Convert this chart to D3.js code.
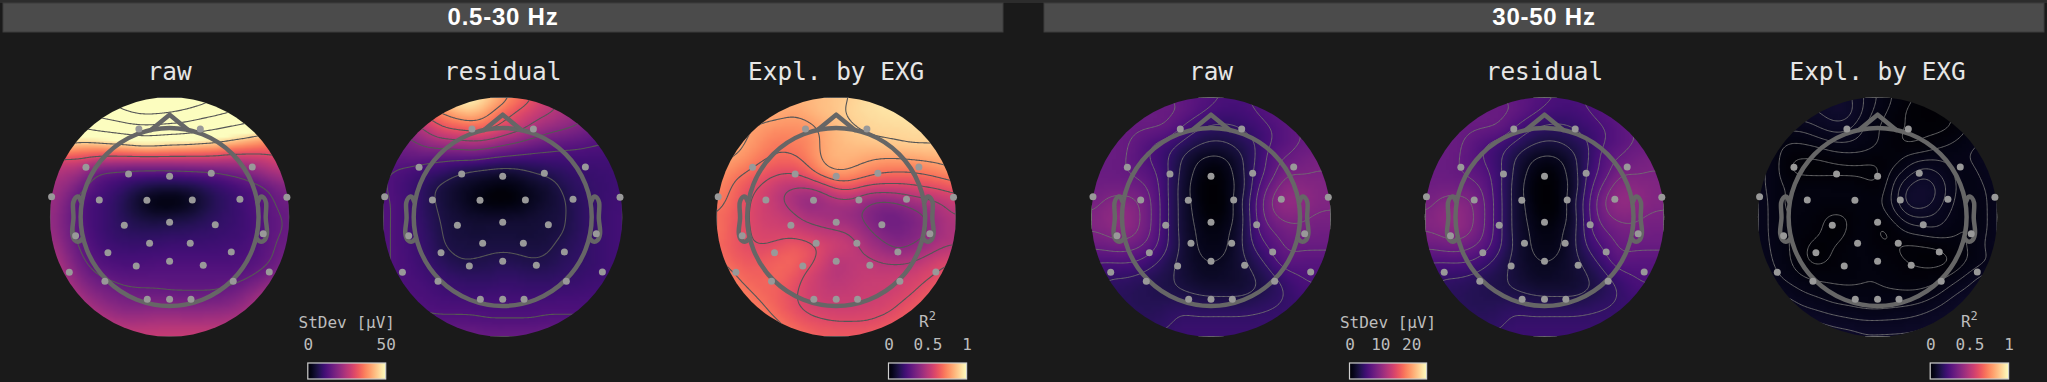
<!DOCTYPE html>
<html><head><meta charset="utf-8">
<script src="https://cdn.jsdelivr.net/npm/d3@7"></script>
<style>html,body{margin:0;padding:0;background:#1a1a1a;overflow:hidden}svg{display:block}</style>
</head><body><div id="chart"></div>
<script>
// ---------- data ----------
const bandTitles = ["0.5-30 Hz","30-50 Hz"];
const mapTitles = ["raw","residual","Expl. by EXG"];
const electrodeX = [-.345,.345,-.94,-.461,0,.468,.929,-1.326,-.79,-.255,.255,.79,1.318,-1.056,-.509,0,.513,1.052,-.225,.232,-.693,.693,-.375,0,.378,-1.127,1.12,-.727,.715,-.251,0,.24];
const electrodeY = [.989,.989,.558,.483,.457,.491,.562,.228,.191,.187,.191,.199,.221,-.21,-.094,-.06,-.086,-.187,-.296,-.296,-.401,-.393,-.551,-.498,-.543,-.622,-.618,-.723,-.723,-.925,-.925,-.925];
const noseX = [-.2094,0,.2094], noseY = [.9778,1.15,.9778];
const earX = [.994,1.02,1.036,1.06,1.084,1.08,1.094,1.064,1.02,.978];
const earY = [.17,.225,.23,.215,.16,-.011,-.186,-.263,-.277,-.24];

// field samples in percent of the colour range, 17 x 17, top row first
const raw1 = [
[170,170,175,180,190,205,225,225,215,205,197,185,175,165,155,150,145],
[155,155,155,160,165,174,184,184,180,174,165,158,150,142,135,130,125],
[110,115,120,128,133,140,144,143,140,138,131,125,118,113,105,100,95],
[100,98,90,91,94,96,102,102,98,97,94,92,87,82,78,72,65],
[62,60,62,58,57,57,57,57,57,57,57,57,53,54,54,59,60],
[50,47,44,31,28,27,26,26,26,27,28,29,33,36,42,47,50],
[45,42,33,26,22,18,14,12,11,12,14,18,20,24,27,33,38],
[45,36,26,22,19,14,7,2,1,3,9,15,18,22,26,30,33],
[43,35,26,22,19,15,12,10,11,12,14,17,19,21,25,29,31],
[44,35,27,22,19,17,16,16,17,17,18,19,20,21,25,29,31],
[47,38,29,24,21,20,20,20,21,21,21,21,22,23,26,30,33],
[50,42,32,27,24,23,23,24,24,24,24,24,24,25,27,31,36],
[55,46,37,31,29,27,27,27,27,27,27,27,27,28,32,37,42],
[60,51,43,37,34,32,31,31,30,30,30,30,32,36,42,48,54],
[62,57,50,44,40,37,37,38,38,37,37,38,39,43,49,54,60],
[65,62,57,52,48,46,46,47,47,47,47,47,48,50,55,60,64],
[68,66,63,60,57,55,55,55,55,55,55,55,56,58,60,63,66]];
const residual1 = [
[70,75,80,90,95,100,100,92,82,73,64,55,48,44,40,38,36],
[55,58,62,68,77,84,88,78,68,61,55,51,48,42,38,35,33],
[38,40,45,54,63,66,68,67,60,55,48,43,40,37,33,30,28],
[32,34,37,43,46,47,49,47,42,38,34,31,29,28,26,25,24],
[28,29,30,29,28,28,29,26,24,23,22,22,22,22,22,22,22],
[26,24,22,20,18,14,11,10,9,10,13,15,17,19,20,20,21],
[26,23,20,15,11,8,6,4,2,4,7,9,14,17,19,20,21],
[26,24,20,15,11,8,4,1,1,2,6,9,12,16,19,20,22],
[26,24,20,16,12,10,9,9,9,9,10,11,12,16,19,21,22],
[26,24,21,17,12.5,11,10,10,11,10,10,11,12.5,16,19,21,22],
[26,24,21,18,13,12,12,12,12,12,12,12,15,17,19,21,22],
[26,24,22,19,16,13,13,13.8,15,14,13,14,16,18,19,21,22],
[26,24,23,21,19,18,17,17,18,18,17,17,18,19,20,21,22],
[27,25,24,23,21,20,20,20,21,20,20,20,21,21,22,22,23],
[28,26,25,24.5,24,24,23.8,23.8,23.8,23.8,23.8,24,24,24,24,24,25],
[30,28,27,26,26,26,26,25,25,25,25,26,26,26,27,27,28],
[36,35,34,33,33,33,33,32,32,32,32,33,33,33,34,35,36]];
const explained1 = [
[84,84,84,84,84,84,85,86,88,90,93,95,97,97,97,97,97],
[82,82,83,83,83,81,83,87,88,92,93,94,95,95,95,95,95],
[84,84,81,79,77,77,77,81,86,89,91,92,92,93,93,93,93],
[84,83,80,76,72,73,74,81,85,87,88,89,90,91,91,91,91],
[82,81,77,72,69,69,73,81,84,84,82,81,81,82,83,84,85],
[79,74,70,65,62,61,65,76,81,79,75,71,70,70,72,75,79],
[75,70,63,59,53,50,50,53,62,63,58,57,57,58,60,62,65],
[73,68,61,57,52,47,40,43,46,47,41,38,40,44,47,50,55],
[70,65,61,56,55,53,48,46,44,42,38,33,32,35,40,46,50],
[72,65,61,58,57,56,54,52,51,49,42,37,34,37,39,46,48],
[68,65,61,60,62,66,64,59,56,54,47,43,38,40,44,49,50],
[72,67,65,65,67,68,63,57,49,52,52,50,49,50,54,58,60],
[76,72,67,67,68,65,58,54,50,52,54,54,55,56,59,62,66],
[80,76,71,68,66,62,57,54,53,54,55,55,56,59,63,67,70],
[82,80,74,71,67,62,58,56,55,55,56,57,60,64,67,70,72],
[84,82,78,74,71,67,63,61,60,60,60,62,64,67,70,72,74],
[84,82,80,78,74,71,69,67,66,66,66,67,69,71,73,75,77]];
const raw2 = [
[30,30,30,30,30,30,29,27,25,24,23,25,27,28,29,30,30],
[30,30,30,31,31,31,30,26,23,21,22,24,27,29,30,31,31],
[31,31,31,31,31,30,24,19,17,17,18,21,24,27,31,31,31],
[31,31,31,29,24.5,22,18,14,11.5,12,15,18,24,27,30,31,31],
[31,31,31,28,23,19,12,7,5,6,11,18,27,30,33,35,35],
[31,31,30.5,29,26,19.5,11,5,1,3,10,20,26.5,35,35,36,36],
[33,33,33,32,29,19,10,3,0,3,8,22,32,40,39,38,36],
[33,37,39,37,30.5,19.5,10,4,0,2,11,24,37,42,41,38,37],
[37,40,42,38,30.5,19.5,10,5,1,3,9,24,34,38,37.5,35,35],
[36,37,40,37,30,19.5,10,6,3,5,10,23,29,33,34,33,33],
[31,32,33,31,27,19,11,6,4,5,11,19.5,25,31,31,31,31],
[24,24,24.5,24,20,15,10,7,6,7,10,15,21,28,27,27,27],
[22,18,18,17,15,13,11,8,7,8,9,12,16,21,24,25,25],
[18,17,16,15,14,13,12,11,10,10,10,12,15,18,22,23,23],
[17,17,16,15,15,16,17,16,16,16,16,17,18,19,20,20,20],
[18,18,17,17,16,17,19,19,19,19,19,19,19,19,19,19,19],
[20,20,20,20,19,19,20,20,20,20,20,20,20,20,20,20,20]];
const residual2 = [
[30,30,30,30,30,30,29,27,25,24,23,25,27,28,29,30,30],
[30,30,30,31,31,31,30,26,23,21,22,24,27,29,30,31,31],
[31,31,31,31,31,30,24,19,17,17,18,21,24,27,31,31,31],
[31,31,31,29,24.5,22,18,14,11.5,12,15,18,24,27,30,31,31],
[31,31,31,28,23,19,12,7,5,6,11,18,27,30,33,35,35],
[31,31,30.5,29,26,19.5,11,5,1,3,10,20,26.5,35,35,36,36],
[33,33,33,32,29,19,10,3,0,3,8,22,32,40,39,38,36],
[33,37,39,37,30.5,19.5,10,4,0,2,11,24,37,42,41,38,37],
[37,40,42,38,30.5,19.5,10,5,1,3,9,24,34,38,37.5,35,35],
[36,37,40,37,30,19.5,10,6,3,5,10,23,29,33,34,33,33],
[31,32,33,31,27,19,11,6,4,5,11,19.5,25,31,31,31,31],
[24,24,24.5,24,20,15,10,7,6,7,10,15,21,28,27,27,27],
[22,18,18,17,15,13,11,8,7,8,9,12,16,21,24,25,25],
[18,17,16,15,14,13,12,11,10,10,10,12,15,18,22,23,23],
[17,17,16,15,15,16,17,16,16,16,16,17,18,19,20,20,20],
[18,18,17,17,16,17,19,19,19,19,19,19,19,19,19,19,19],
[20,20,20,20,19,19,20,20,20,20,20,20,20,20,20,20,20]];
const explained2 = [
[8,8,8,8,8,8,8,6,4.5,3,2,1.2,1.2,2,3,3,3],
[7,7,7,7.2,7.5,8.5,8.5,6,3.8,2.5,1.2,.5,.6,1.5,3,3.5,3.5],
[5,5,5,5,6,6.8,6.5,4.5,3,2,1.5,1.2,1,1.5,3,4,4],
[4,4,3,3.2,3.7,4.5,4.6,4,3.2,2,1,1.5,2.2,3,3.8,4.5,4.5],
[5,4,1.8,1.5,1.6,2.1,2.4,2.4,2,1.8,3.5,3.8,4.2,4,4.5,5.5,6],
[5,4,1.5,.9,.8,.8,.8,.8,1,3.5,5,7,6,4.5,3.5,5,6],
[5,4,2.8,3,3,3,2.9,2.7,1.5,4.5,7.8,8.7,7.5,5,3.4,4.3,5.5],
[5.5,4,2.5,3,2.7,2.7,2.8,2.9,2.5,4.8,8.3,8.8,7,4.6,3.2,4,5.5],
[5.5,4,3,2.8,2,1,1.4,2.8,1.7,3.4,5.7,6,5.5,4,3,4,5.5],
[5.5,4,3,2.4,1.8,.8,1.4,3.3,1,1.6,3.2,3.6,4.2,3.2,2.8,4,5.5],
[5.5,4.2,3.2,1.8,.8,1.5,2.2,3.3,1.8,1.7,1,1.2,1.4,2.5,3,4.3,6],
[5.5,4.5,3.3,1.8,1,1.8,2.2,3,2.5,2,1.5,1.2,1,1.3,3,4,5],
[6,5,4,3,2.6,2.6,2.6,2.9,3,2.5,2,2,2.3,3.5,5,6.5,7],
[7,6,5.5,4.5,4,3.5,3.3,3.2,3.1,3.1,3.1,3.2,4,5.5,6.5,7.5,8],
[8,7.5,7,6,5.5,4.8,4.6,4.2,4.1,4.3,4.5,5,6,7,8,8.5,8.5],
[9,9,8.5,8,7.5,7,6.5,6.2,6.2,6.3,6.5,7,7.5,8,8.5,9,9],
[10,10,10,9.5,9,8.5,8.5,8,8,8,8,8,8.5,9,9.5,10,10]];

const fields = [raw1,residual1,explained1,raw2,residual2,explained2];
const contourLevels = [
 [30,60,90,120,150,180],[13,25,38,50,63,76],[40,50,60,70,80,90],
 [6,12,18,24,30,36],[6,12,18,24,30,36],[1.5,3,4.5,6,7.5,9]];

const legendLabels = ["StDev [µV]","R","StDev [µV]","R"];
const legendDomains = [[0,50],[0,1],[0,25],[0,1]];
const legendTicks = [[0,50],[0,.5,1],[0,10,20],[0,.5,1]];

// ---------- layout ----------
const W=2047,H=382,cy=217,mapR=119.7,headR=89;
const cxs=[169.6,502.7,836.2,1211,1544.5,1877.6];
const bars=[[3,1003],[1044,2044]];
const legendBoxes=[[307.8,385.7],[888.5,966.6],[1349.5,1426.6],[1930.2,2008.6]];

const svg=d3.select("#chart").append("svg").attr("width",W).attr("height",H);
svg.append("rect").attr("width",W).attr("height",H).attr("fill","#1a1a1a");
svg.append("rect").attr("width",W).attr("height",3).attr("fill","#2c2c2c");

bars.forEach((b,i)=>{
  svg.append("rect").attr("x",b[0]).attr("y",3).attr("width",b[1]-b[0]).attr("height",29)
    .attr("fill","#4b4b4b").attr("stroke","#3c3c3c").attr("stroke-width",1);
  svg.append("text").attr("x",(b[0]+b[1])/2).attr("y",24.6).attr("text-anchor","middle")
    .attr("font-family","'Liberation Sans',Arial,sans-serif").attr("font-weight","bold")
    .attr("font-size",24).attr("letter-spacing",.75).attr("fill","#fff").text(bandTitles[i]);
});

const magma=d3.scaleSequential(d3.interpolateMagma).domain([0,100]).clamp(true);

function cr(p0,p1,p2,p3,t){return .5*((2*p1)+(-p0+p2)*t+(2*p0-5*p1+4*p2-p3)*t*t+(-p0+3*p1-3*p2+p3)*t*t*t);}
function sample(g,u,v){
  const n=g.length-1,x=Math.min(Math.max(u,0),n),y=Math.min(Math.max(v,0),n);
  const i=Math.min(Math.floor(x),n-1),j=Math.min(Math.floor(y),n-1),tx=x-i,ty=y-j;
  const at=(a,b)=>g[Math.min(Math.max(b,0),n)][Math.min(Math.max(a,0),n)];
  const r=[];
  for(let k=-1;k<=2;k++) r.push(cr(at(i-1,j+k),at(i,j+k),at(i+1,j+k),at(i+2,j+k),tx));
  return cr(r[0],r[1],r[2],r[3],ty);
}

const defs=svg.append("defs");
fields.forEach((grid,m)=>{
  const cx=cxs[m];
  const px=d3.scaleLinear().domain([-1,1]).range([cx-mapR,cx+mapR]);
  const py=d3.scaleLinear().domain([-1,1]).range([cy-mapR,cy+mapR]);
  const hx=d3.scaleLinear().domain([0,1]).range([cx,cx+headR]);
  const hy=d3.scaleLinear().domain([0,1]).range([cy,cy-headR]);
  const n=grid.length-1;

  // resampled field, lightly blurred so the cell grid does not show
  const fine=192,vals=new Float64Array(fine*fine);
  for(let j=0;j<fine;j++)for(let i=0;i<fine;i++) vals[j*fine+i]=sample(grid,(i+.5)/fine*n,(j+.5)/fine*n);
  d3.blur2({data:vals,width:fine},5);

  // raster
  const res=64,cv=document.createElement("canvas");cv.width=res;cv.height=res;
  const ctx=cv.getContext("2d");
  for(let j=0;j<res;j++)for(let i=0;i<res;i++){
    ctx.fillStyle=magma(vals[(j*3+1)*fine+(i*3+1)]);
    ctx.fillRect(i,j,1,1);
  }
  const id="clip"+m;
  defs.append("clipPath").attr("id",id).append("circle").attr("cx",cx).attr("cy",cy).attr("r",mapR);
  const g=svg.append("g");
  const inner=g.append("g").attr("clip-path",`url(#${id})`);
  inner.append("image").attr("x",px(-1)).attr("y",py(-1)).attr("width",2*mapR).attr("height",2*mapR)
    .attr("preserveAspectRatio","none").attr("href",cv.toDataURL());

  // contour lines
  const conts=d3.contours().size([fine,fine]).smooth(true).thresholds(contourLevels[m])(vals);
  const sx=d3.scaleLinear().domain([0,fine]).range([px(-1),px(1)]);
  const sy=d3.scaleLinear().domain([0,fine]).range([py(-1),py(1)]);
  const path=d3.geoPath(d3.geoTransform({point(x,y){this.stream.point(sx(x),sy(y));}}));
  inner.selectAll("path.c").data(conts).join("path").attr("class","c")
    .attr("d",path).attr("fill","none")
    .attr("stroke",m<3?"#565656":"#727272").attr("stroke-width",m<3?1.1:.9);

  // head
  const line=d3.line().x(d=>hx(d[0])).y(d=>hy(d[1]));
  const st=s=>s.attr("fill","none").attr("stroke","#666").attr("stroke-width",4.5).attr("stroke-linejoin","round").attr("stroke-linecap","round");
  st(g.append("circle").attr("cx",cx).attr("cy",cy).attr("r",headR));
  st(g.append("path").attr("d",line(noseX.map((x,i)=>[x,noseY[i]]))));
  const earLine=line.curve(d3.curveCatmullRom);
  st(g.append("path").attr("d",earLine(earX.map((x,i)=>[x,earY[i]]))));
  st(g.append("path").attr("d",earLine(earX.map((x,i)=>[-x,earY[i]]))));

  // electrodes
  g.selectAll("circle.e").data(electrodeX).join("circle").attr("class","e")
    .attr("cx",d=>hx(d)).attr("cy",(d,i)=>hy(electrodeY[i])).attr("r",3.5).attr("fill","#999");

  // title
  svg.append("text").attr("x",cx).attr("y",80).attr("text-anchor","middle")
    .attr("font-family","'DejaVu Sans Mono',monospace").attr("font-size",24.4)
    .attr("fill","#e6e6e6").text(mapTitles[m%3]);
});

// colour bars
legendBoxes.forEach((b,i)=>{
  const x=d3.scaleLinear().domain(legendDomains[i]).range(b);
  const gid="grad"+i;
  const gr=defs.append("linearGradient").attr("id",gid);
  d3.range(0,1.001,.05).forEach(t=>gr.append("stop").attr("offset",t).attr("stop-color",d3.interpolateMagma(t)));
  svg.append("rect").attr("x",b[0]).attr("y",363).attr("width",b[1]-b[0]).attr("height",16)
    .attr("fill",`url(#${gid})`).attr("stroke","#cfcfcf").attr("stroke-width",1.2);
  const ax=d3.axisTop(x).tickValues(legendTicks[i]).tickSize(0).tickPadding(0).tickFormat(d3.format("~g"));
  const ag=svg.append("g").attr("transform","translate(0,350)").call(ax);
  ag.select(".domain").remove();
  ag.selectAll("text").attr("font-family","'DejaVu Sans Mono',monospace").attr("font-size",16).attr("fill","#bdbdbd").attr("dy",0);
  const mid=i%2?x(.5):(b[0]+b[1])/2;
  const t=svg.append("text").attr("x",mid).attr("y",i%2?327:328).attr("text-anchor","middle")
    .attr("font-family","'DejaVu Sans Mono',monospace").attr("font-size",16).attr("fill","#bdbdbd").text(legendLabels[i]);
  if(i%2) t.append("tspan").attr("dy",-7).attr("font-size",12).text("2");
});
</script></body></html>
